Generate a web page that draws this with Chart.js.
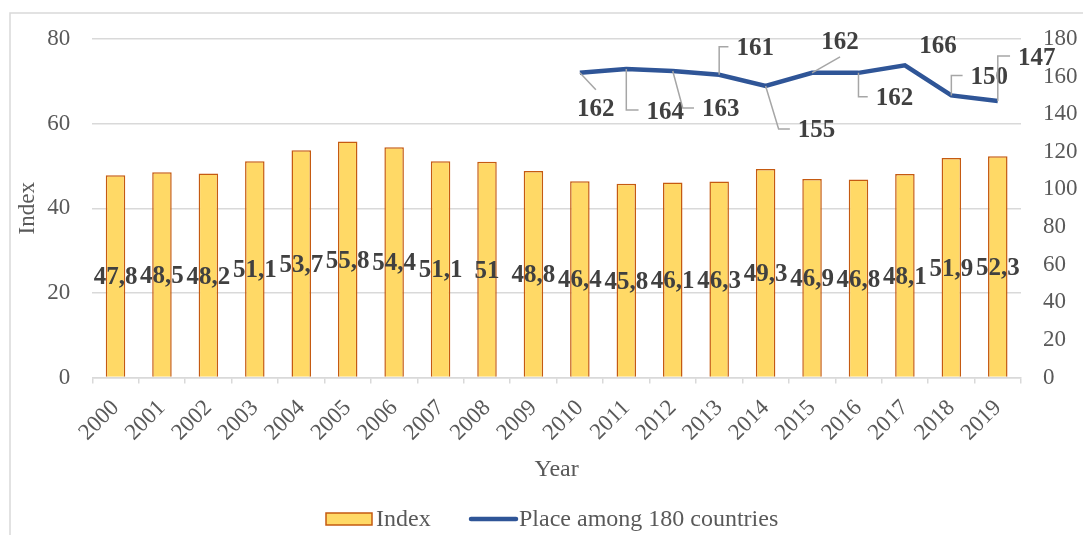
<!DOCTYPE html>
<html>
<head>
<meta charset="utf-8">
<script src="https://cdn.jsdelivr.net/npm/chart.js@4/dist/chart.umd.min.js"></script>
<style>
  body { margin: 0; background: #ffffff; }
  #wrap { width: 1083px; height: 535px; }
</style>
</head>
<body>
<div id="wrap"><canvas id="chart" width="1083" height="535"></canvas></div>
<script>
// Data
const years = ["2000", "2001", "2002", "2003", "2004", "2005", "2006", "2007", "2008", "2009",
  "2010", "2011", "2012", "2013", "2014", "2015", "2016", "2017", "2018", "2019"];
const indexValues = [47.8, 48.5, 48.2, 51.1, 53.7, 55.8, 54.4, 51.1, 51, 48.8,
  46.4, 45.8, 46.1, 46.3, 49.3, 46.9, 46.8, 48.1, 51.9, 52.3];
const placeValues = [null, null, null, null, null, null, null, null, null, null,
  162, 164, 163, 161, 155, 162, 162, 166, 150, 147];
const leftTicks = [0, 20, 40, 60, 80];
const rightTicks = [0, 20, 40, 60, 80, 100, 120, 140, 160, 180];

const SERIF = '"Liberation Serif", "Times New Roman", serif';
const TEXT_GREY = "#595959";
const LABEL_DARK = "#404040";
const GRID = "#D9D9D9";

// where each rank label sits relative to its point (dx, dy), and how its leader line runs
const placeLabelLayout = {
  10: { dx: 16, dy: 35, lead: "diag" },
  11: { dx: 39, dy: 41, lead: "elbow", kx: 0 },
  12: { dx: 48, dy: 37, lead: "elbow", kx: 10 },
  13: { dx: 36, dy: -28, lead: "elbow", kx: 0 },
  14: { dx: 51, dy: 43, lead: "elbow", kx: 13 },
  15: { dx: 28, dy: -32, lead: "diag" },
  16: { dx: 36, dy: 24, lead: "elbow", kx: 0 },
  17: { dx: 33, dy: -21, lead: "none" },
  18: { dx: 38, dy: -20, lead: "elbow", kx: 0 },
  19: { dx: 39, dy: -45, lead: "elbow", kx: 0 },
};

const decorPlugin = {
  id: "decor",
  beforeDraw(chart) {
    // light frame, cropped at right and bottom as in the source
    const ctx = chart.ctx;
    ctx.save();
    ctx.strokeStyle = GRID;
    ctx.lineWidth = 1.5;
    ctx.strokeRect(10, 13, 1400, 800);
    ctx.restore();
  },
  afterDatasetsDraw(chart) {
    const ctx = chart.ctx;
    ctx.save();
    ctx.fillStyle = LABEL_DARK;
    ctx.textAlign = "center";
    ctx.textBaseline = "middle";

    // bar value labels, centred in the bar
    ctx.font = "bold 25px " + SERIF;
    const barMeta = chart.getDatasetMeta(0);
    barMeta.data.forEach((bar, i) => {
      const y = (bar.y + bar.base) / 2;
      ctx.fillText(String(indexValues[i]).replace(".", ","), bar.x, y + 2);
    });

    // rank labels with leader lines
    const lineMeta = chart.getDatasetMeta(1);
    lineMeta.data.forEach((pt, i) => {
      const v = placeValues[i];
      if (v === null || !placeLabelLayout[i]) return;
      const lay = placeLabelLayout[i];
      const lx = pt.x + lay.dx;
      const ly = pt.y + lay.dy;
      const text = String(v);
      const halfW = ctx.measureText(text).width / 2;
      ctx.strokeStyle = "#A6A6A6";
      ctx.lineWidth = 1.5;
      if (lay.lead === "diag") {
        ctx.beginPath();
        ctx.moveTo(pt.x, pt.y);
        ctx.lineTo(lx, ly + (lay.dy > 0 ? -18 : 16));
        ctx.stroke();
      } else if (lay.lead === "elbow") {
        ctx.beginPath();
        ctx.moveTo(pt.x, pt.y);
        ctx.lineTo(pt.x + lay.kx, ly);
        ctx.lineTo(lx - halfW - 8, ly);
        ctx.stroke();
      }
      ctx.fillText(text, lx, ly + 2);
    });
    ctx.restore();
  },
  afterDraw(chart) {
    // legend
    const ctx = chart.ctx;
    const ds = chart.data.datasets;
    const cy = 519;
    ctx.save();
    ctx.fillStyle = "#FFD966";
    ctx.strokeStyle = "#C55A11";
    ctx.lineWidth = 1.5;
    ctx.fillRect(326, cy - 6, 46, 12);
    ctx.strokeRect(326, cy - 6, 46, 12);
    ctx.strokeStyle = "#2F5597";
    ctx.lineWidth = 4.5;
    ctx.lineCap = "round";
    ctx.beginPath();
    ctx.moveTo(471, cy);
    ctx.lineTo(516, cy);
    ctx.stroke();
    ctx.fillStyle = TEXT_GREY;
    ctx.font = "24px " + SERIF;
    ctx.textAlign = "left";
    ctx.textBaseline = "middle";
    ctx.fillText(ds[0].label, 376, cy + 1);
    ctx.fillText(ds[1].label, 519, cy + 1);
    ctx.restore();
  },
};

const ctx = document.getElementById("chart").getContext("2d");
new Chart(ctx, {
  data: {
    labels: years,
    datasets: [
      {
        type: "bar",
        label: "Index",
        data: indexValues,
        yAxisID: "y",
        backgroundColor: "#FFD966",
        borderColor: "#C55A11",
        borderWidth: 1.5,
        categoryPercentage: 1,
        barPercentage: 0.42,
        order: 2,
      },
      {
        type: "line",
        label: "Place among 180 countries",
        data: placeValues,
        yAxisID: "y1",
        borderColor: "#2F5597",
        backgroundColor: "#2F5597",
        borderWidth: 4.5,
        pointRadius: 0,
        tension: 0,
        spanGaps: false,
        order: 1,
      },
    ],
  },
  options: {
    responsive: false,
    animation: false,
    layout: {
      padding: { top: 39, left: 0, right: 0, bottom: 0 },
    },
    plugins: {
      legend: { display: false },
      tooltip: { enabled: false },
    },
    scales: {
      x: {
        offset: true,
        grid: {
          offset: true,
          drawOnChartArea: false,
          drawTicks: true,
          tickLength: 6,
          color: GRID,
          lineWidth: 1.5,
        },
        border: { display: true, color: GRID, width: 1.5 },
        ticks: {
          minRotation: 45,
          maxRotation: 45,
          autoSkip: false,
          padding: 11,
          color: TEXT_GREY,
          font: { family: SERIF, size: 23 },
        },
        title: {
          display: true,
          text: "Year",
          color: TEXT_GREY,
          font: { family: SERIF, size: 24 },
          padding: { top: 0, bottom: 51 },
        },
        afterFit(scale) {
          scale.height = 157.5;
        },
      },
      y: {
        position: "left",
        min: 0,
        max: 80,
        afterBuildTicks(scale) {
          scale.ticks = leftTicks.map((v) => ({ value: v }));
        },
        grid: { color: GRID, lineWidth: 1.5, drawTicks: false },
        border: { display: false },
        ticks: {
          padding: 22,
          color: TEXT_GREY,
          font: { family: SERIF, size: 23 },
        },
        title: {
          display: true,
          text: "Index",
          color: TEXT_GREY,
          font: { family: SERIF, size: 23 },
          padding: { top: 14, bottom: 0 },
        },
        afterFit(scale) {
          scale.width = 92.3;
        },
      },
      y1: {
        position: "right",
        min: 0,
        max: 180,
        afterBuildTicks(scale) {
          scale.ticks = rightTicks.map((v) => ({ value: v }));
        },
        grid: { display: false, drawTicks: false },
        border: { display: false },
        ticks: {
          padding: 22,
          color: TEXT_GREY,
          font: { family: SERIF, size: 23 },
        },
        afterFit(scale) {
          scale.width = 62;
        },
      },
    },
  },
  plugins: [decorPlugin],
});
</script>
</body>
</html>
